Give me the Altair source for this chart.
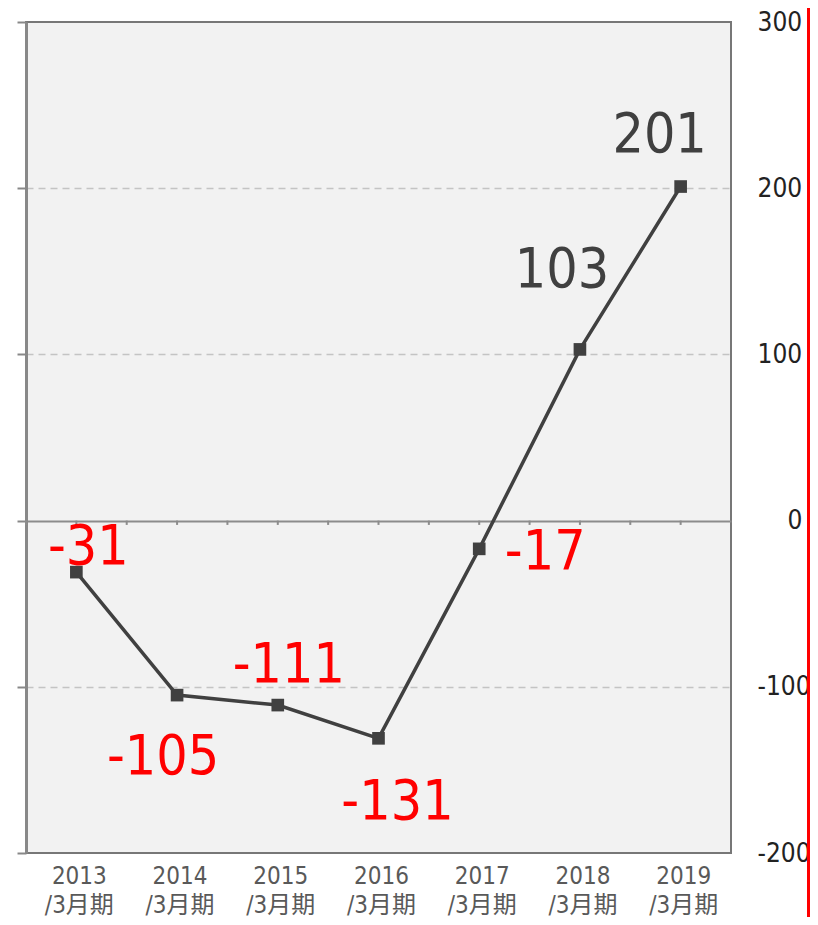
import altair as alt
import pandas as pd

# ---- data ----
categories = ["2013\n/3月期", "2014\n/3月期", "2015\n/3月期", "2016\n/3月期",
              "2017\n/3月期", "2018\n/3月期", "2019\n/3月期"]
values = [-31, -105, -111, -131, -17, 103, 201]
y_ticks = [-200, -100, 0, 100, 200, 300]

# label placement (pixel offsets of each value label from its point)
label_dx = [12, -14, 11, 19, 66, -18, -21]
label_dy = [-8, 79, -23, 81, 20, -62, -35]

df = pd.DataFrame({
    "idx": list(range(len(categories))),
    "period": categories,
    "value": values,
    "label": [str(v) for v in values],
})

FONT = "DejaVu Sans Condensed, Noto Sans CJK JP, DejaVu Sans"
W, H = 705, 831
PAD = {"left": 18, "top": 14, "right": 79, "bottom": 64}

xscale = alt.Scale(type="band", paddingInner=0, paddingOuter=0)
yscale = alt.Scale(domain=[-200, 300], nice=False, zero=False)

x_axis = alt.Axis(
    orient="bottom", title=None, labelAngle=0, ticks=False, domain=False,
    labelExpr="split(datum.label, '\\n')", labelFontSize=24, labelFont=FONT,
    labelColor="#595959", labelPadding=11, labelLineHeight=29, labelOffset=3,
)

left_axis = alt.Axis(
    orient="left", title=None, values=y_ticks, labels=False,
    ticks=True, tickSize=9, tickColor="#888888", tickWidth=2,
    domain=True, domainColor="#888888", domainWidth=3,
    grid=True,
    gridColor={"condition": {"test": "datum.value === 0", "value": "#8c8c8c"}, "value": "#c4c4c4"},
    gridDash={"condition": {"test": "datum.value === 0", "value": []}, "value": [7, 5]},
    gridWidth={"condition": {"test": "datum.value === 0", "value": 2}, "value": 1.5},
    gridOpacity={"condition": {"test": "datum.value === 300 || datum.value === -200", "value": 0}, "value": 1},
)

right_axis = alt.Axis(
    orient="right", title=None, values=y_ticks, ticks=False, domain=False, grid=False,
    labelFontSize=26, labelFont=FONT, labelColor="#222222", labelAlign="left",
    labelBaseline="middle", labelExpr="'' + datum.value",
    labelPadding={"condition": {"test": "datum.value === 0", "value": 56}, "value": 26},
)

base = alt.Chart(df)
X = alt.X("period:N", sort=categories, scale=xscale, axis=x_axis)

line = base.mark_line(color="#404040", strokeWidth=3.5).encode(
    x=X, y=alt.Y("value:Q", scale=yscale, axis=left_axis)
)

points = base.mark_square(size=160, color="#404040", opacity=1).encode(
    x=X, y=alt.Y("value:Q", scale=yscale, axis=right_axis)
)

zero_ticks_c = base.mark_rule(color="#8c8c8c", strokeWidth=2).encode(
    x=alt.X("period:N", sort=categories, scale=xscale, bandPosition=0.5, axis=x_axis),
    y=alt.datum(0, scale=yscale, axis=None),
    y2=alt.datum(-2.6),
)
zero_ticks_b = base.mark_rule(color="#8c8c8c", strokeWidth=2).encode(
    x=alt.X("period:N", sort=categories, scale=xscale, bandPosition=0, axis=x_axis),
    y=alt.datum(0, scale=yscale, axis=None),
    y2=alt.datum(-2.6),
)

label_layers = []
for i in range(len(categories)):
    label_layers.append(
        base.transform_filter(alt.datum.idx == i).mark_text(
            fontSize=55, font=FONT, align="center", baseline="alphabetic",
            dx=label_dx[i], dy=label_dy[i],
        ).encode(
            x=X,
            y=alt.Y("value:Q", scale=yscale, axis=None),
            text="label:N",
            color=alt.condition("datum.value < 0", alt.value("#ff0000"), alt.value("#404040")),
        )
    )

red_edge = base.transform_filter(alt.datum.idx == 0).mark_rule(
    color="#ff0000", strokeWidth=3, clip=False
).encode(x=alt.value(W + PAD["right"] - 1.5), y=alt.value(-PAD["top"]), y2=alt.value(H + PAD["bottom"]))

chart = alt.layer(
    line, points, zero_ticks_c, zero_ticks_b, *label_layers, red_edge
).resolve_axis(y="independent").properties(
    width=W, height=H, padding=PAD, autosize=alt.AutoSizeParams(type="none")
).configure_view(
    fill="#f2f2f2", stroke="#777777", strokeWidth=2
)

chart.save("out.html", embed_options={"renderer": "svg", "actions": False})
